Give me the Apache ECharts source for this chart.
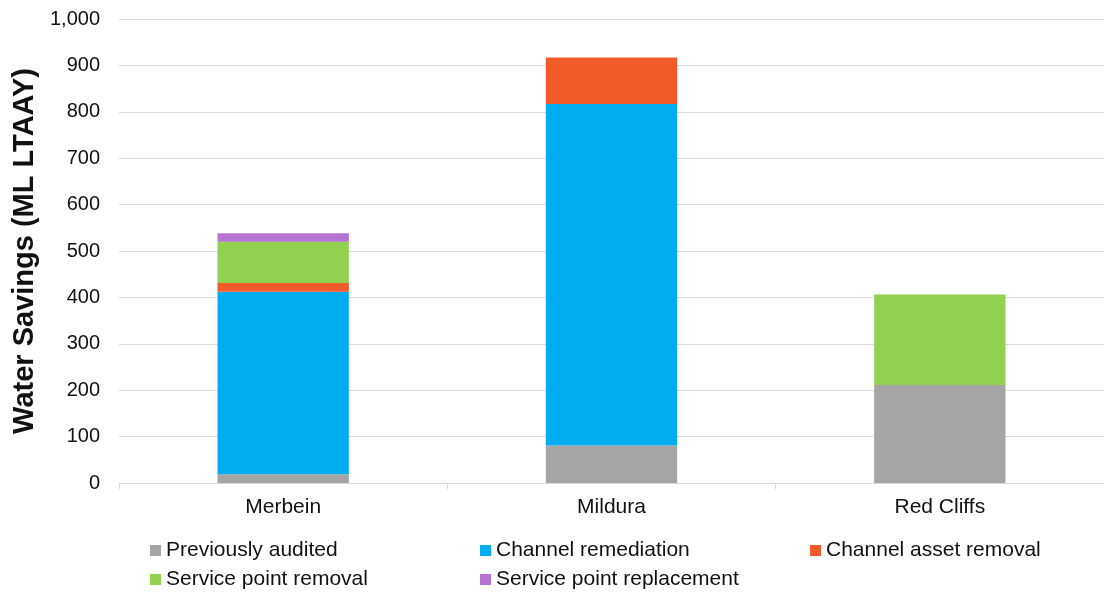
<!DOCTYPE html>
<html>
<head>
<meta charset="utf-8">
<script src="https://cdn.jsdelivr.net/npm/echarts@6/dist/echarts.min.js"></script>
<style>
  html, body { margin: 0; padding: 0; background: #fff; }
  #chart { width: 1104px; height: 597px; }
</style>
</head>
<body>
<div id="chart"></div>
<script>
'use strict'
var categories = ['Merbein', 'Mildura', 'Red Cliffs']
var seriesNames = [
  'Previously audited',
  'Channel remediation',
  'Channel asset removal',
  'Service point removal',
  'Service point replacement'
]
var previouslyAudited = [19, 81, 211]
var channelRemediation = [393, 736, 0]
var channelAssetRemoval = [19, 100, 0]
var servicePointRemoval = [89, 0, 195]
var servicePointReplacement = [18, 0, 0]
var yTicks = [0, 1000, 100]

var colors = ['#a5a5a5', '#00adee', '#f15a29', '#92d050', '#b673d1']
var seriesData = [
  previouslyAudited,
  channelRemediation,
  channelAssetRemoval,
  servicePointRemoval,
  servicePointReplacement
]

var chart = echarts.init(document.getElementById('chart'))
var font = 'Liberation Sans, Arial, sans-serif'

var series = seriesNames.map(function(name, i) {
  return {
    name: name,
    type: 'bar',
    stack: 'total',
    barWidth: '40%',
    itemStyle: { color: colors[i] },
    data: seriesData[i].map(function(v) { return v === 0 ? null : v })
  }
})

// legend laid out as a 3-column grid, one component per item
var legendPos = [
  [150, 539], [480, 539], [810, 539],
  [150, 568], [480, 568]
]
var legends = seriesNames.map(function(name, i) {
  return {
    left: legendPos[i][0],
    top: legendPos[i][1],
    padding: 0,
    itemWidth: 11,
    itemHeight: 11,
    itemGap: 0,
    icon: 'rect',
    data: [name],
    textStyle: { fontSize: 21, lineHeight: 23, color: '#111', fontFamily: font }
  }
})

chart.setOption({
  animation: false,
  textStyle: { fontFamily: font },
  grid: {
    left: 119,
    top: 19,
    width: 990,
    height: 464
  },
  legend: legends,
  xAxis: {
    type: 'category',
    data: categories,
    axisLine: { lineStyle: { color: '#d9d9d9', width: 1 } },
    axisTick: { show: true, length: 6, lineStyle: { color: '#d9d9d9' } },
    axisLabel: { fontSize: 21, color: '#111', margin: 14, fontFamily: font }
  },
  yAxis: {
    type: 'value',
    min: yTicks[0],
    max: yTicks[1],
    interval: yTicks[2],
    name: 'Water Savings (ML LTAAY)',
    nameLocation: 'middle',
    nameGap: 72,
    nameRotate: 90,
    nameTextStyle: { fontSize: 29, fontWeight: 'bold', color: '#111', fontFamily: font },
    axisLine: { show: false },
    axisTick: { show: false },
    splitLine: { lineStyle: { color: '#d9d9d9', width: 1 } },
    axisLabel: {
      fontSize: 20,
      color: '#111',
      margin: 19,
      fontFamily: font,
      formatter: function(v) { return v.toLocaleString('en-US') }
    }
  },
  series: series
})
</script>
</body>
</html>
